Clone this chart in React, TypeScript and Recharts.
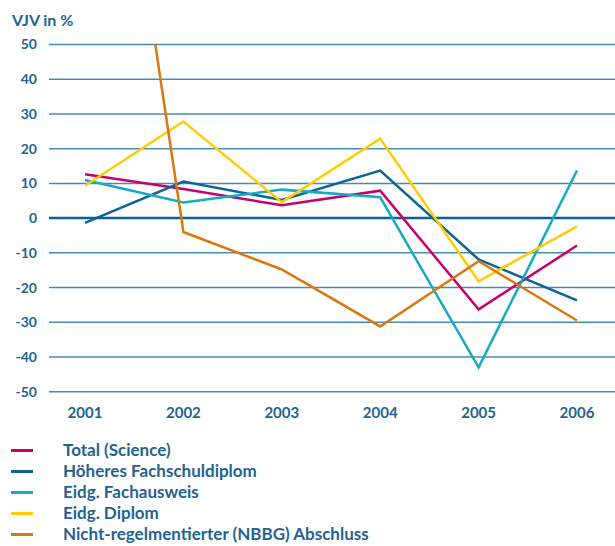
import React from 'react';
import { LineChart, Line, XAxis, YAxis, CartesianGrid, ReferenceLine } from 'recharts';

const years = ['2001', '2002', '2003', '2004', '2005', '2006'];
const total = [12.6, 8.4, 3.7, 7.9, -26.3, -7.9];
const hoeheres = [-1.4, 10.5, 5.2, 13.7, -11.9, -23.7];
const fachausweis = [11.0, 4.5, 8.2, 6.0, -43.0, 13.7];
const diplom = [9.3, 27.8, 4.6, 22.9, -18.2, -2.4];
const nbbg = [185, -4.0, -14.8, -31.2, -12.4, -29.5];
const yTicks = [-50, -40, -30, -20, -10, 0, 10, 20, 30, 40, 50];

const seriesNames = [
  'Total (Science)',
  'Höheres Fachschuldiplom',
  'Eidg. Fachausweis',
  'Eidg. Diplom',
  'Nicht-regelmentierter (NBBG) Abschluss',
];
const seriesKeys = ['total', 'hoeheres', 'fachausweis', 'diplom', 'nbbg'];
const seriesColors = ['#c8006d', '#0a6497', '#16abc2', '#ffcc00', '#d9780f'];

const data = years.map((y, i) => ({
  year: y,
  total: total[i],
  hoeheres: hoeheres[i],
  fachausweis: fachausweis[i],
  diplom: diplom[i],
  nbbg: nbbg[i],
}));

const TEXT = '#1f6391';
const FONT = 'Lato, "Open Sans", sans-serif';

export default function App() {
  return (
    <div style={{ position: 'absolute', left: 0, top: 0, width: 615, height: 546, background: '#fff', fontFamily: FONT }}>
      <div style={{ position: 'absolute', left: 12, top: 10, fontSize: 16, fontWeight: 700, color: TEXT, lineHeight: '20px' }}>
        VJV in %
      </div>
      <LineChart
        width={615}
        height={546}
        data={data}
        margin={{ top: 44.5, right: 0, bottom: 124.3, left: 0 }}
      >
        <CartesianGrid horizontal vertical={false} stroke="#4a8bb2" strokeWidth={1.5} />
        <XAxis
          dataKey="year"
          axisLine={false}
          tickLine={false}
          tickSize={0}
          tickMargin={16}
          height={30}
          padding={{ left: 36, right: 38 }}
          tick={{ fill: TEXT, fontSize: 15, fontWeight: 700, fontFamily: FONT }}
          interval={0}
        />
        <YAxis
          type="number"
          domain={[-50, 50]}
          ticks={yTicks}
          allowDataOverflow
          axisLine={false}
          tickLine={false}
          tickSize={0}
          tickMargin={12}
          width={49}
          tick={{ fill: TEXT, fontSize: 14, fontWeight: 700, fontFamily: FONT }}
        />
        <ReferenceLine y={0} stroke="#0b6194" strokeWidth={2.5} />
        {seriesKeys.map((k, i) => (
          <Line
            key={k}
            type="linear"
            dataKey={k}
            name={seriesNames[i]}
            stroke={seriesColors[i]}
            strokeWidth={2.5}
            dot={false}
            activeDot={false}
            isAnimationActive={false}
          />
        ))}
      </LineChart>
      <div style={{ position: 'absolute', left: 0, top: 439 }}>
        {seriesNames.map((n, i) => (
          <div key={n} style={{ position: 'relative', height: 21, lineHeight: '21px' }}>
            <div style={{ position: 'absolute', left: 11, top: 9.5, width: 22, height: 3, background: seriesColors[i] }} />
            <div style={{ position: 'absolute', left: 63, top: 0, fontSize: 17, fontWeight: 700, color: TEXT, whiteSpace: 'nowrap' }}>
              {n}
            </div>
          </div>
        ))}
      </div>
    </div>
  );
}
